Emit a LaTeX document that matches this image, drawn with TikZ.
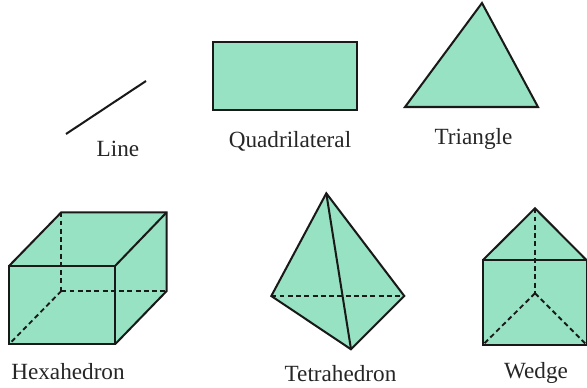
\documentclass[tikz,border=0pt]{standalone}
\usepackage{fontspec}
\setmainfont{Liberation Serif}
\usepackage{xcolor}
\definecolor{solidfill}{HTML}{96E2C3}
\tikzset{
  edge/.style={black!90,line width=1.15pt,line join=miter},
  hidden/.style={black!90,line width=1.05pt,dash pattern=on 2.8pt off 1.9pt},
  shapename/.style={text=black!85,inner sep=0pt}
}
\begin{document}
\begin{tikzpicture}[font=\fontsize{13.2}{15}\selectfont,line cap=butt]
\useasboundingbox (0,0) rectangle (11.74,7.76);
% top row
\draw[edge] (1.32,5.08) -- (2.92,6.14);
\node[shapename] (linelabel) at (2.36,4.79) {Line};
\draw[edge,fill=solidfill] (4.26,5.56) rectangle (7.14,6.92);
\node[shapename] (quadlabel) at (5.80,4.93) {Quadrilateral};
\draw[edge,fill=solidfill] (8.10,5.62) -- (9.64,7.70) -- (10.76,5.62) -- cycle;
\node[shapename] (trilabel) at (9.47,4.99) {Triangle};
% hexahedron
\fill[solidfill] (0.186,0.88) -- (0.186,2.446) -- (1.226,3.514) -- (3.334,3.514) -- (3.334,1.94) -- (2.306,0.88) -- cycle;
\draw[hidden] (1.226,3.514) -- (1.226,1.94);
\draw[hidden] (1.226,1.94) -- (3.334,1.94);
\draw[hidden] (1.226,1.94) -- (0.186,0.88);
\draw[edge] (0.186,0.88) rectangle (2.306,2.446);
\draw[edge] (0.186,2.446) -- (1.226,3.514) -- (3.334,3.514) -- (3.334,1.94) -- (2.306,0.88);
\draw[edge] (2.306,2.446) -- (3.334,3.514);
\node[shapename] (hexlabel) at (1.36,0.32) {Hexahedron};
% tetrahedron
\fill[solidfill] (6.526,3.894) -- (8.086,1.84) -- (7.02,0.774) -- (5.426,1.84) -- cycle;
\draw[hidden] (5.426,1.84) -- (8.086,1.84);
\draw[edge] (6.526,3.894) -- (8.086,1.84) -- (7.02,0.774) -- (5.426,1.84) -- cycle;
\draw[edge] (6.526,3.894) -- (7.02,0.774);
\node[shapename] (tetlabel) at (6.81,0.28) {Tetrahedron};
% wedge
\fill[solidfill] (10.70,3.594) -- (11.734,2.554) -- (11.734,0.86) -- (9.654,0.86) -- (9.654,2.554) -- cycle;
\draw[hidden] (10.70,3.594) -- (10.70,1.894);
\draw[hidden] (10.70,1.894) -- (9.654,0.86);
\draw[hidden] (10.70,1.894) -- (11.734,0.86);
\draw[edge] (9.654,0.86) rectangle (11.734,2.554);
\draw[edge] (9.654,2.554) -- (10.70,3.594) -- (11.734,2.554);
\node[shapename] (wedgelabel) at (10.72,0.31) {Wedge};
\end{tikzpicture}
\end{document}
